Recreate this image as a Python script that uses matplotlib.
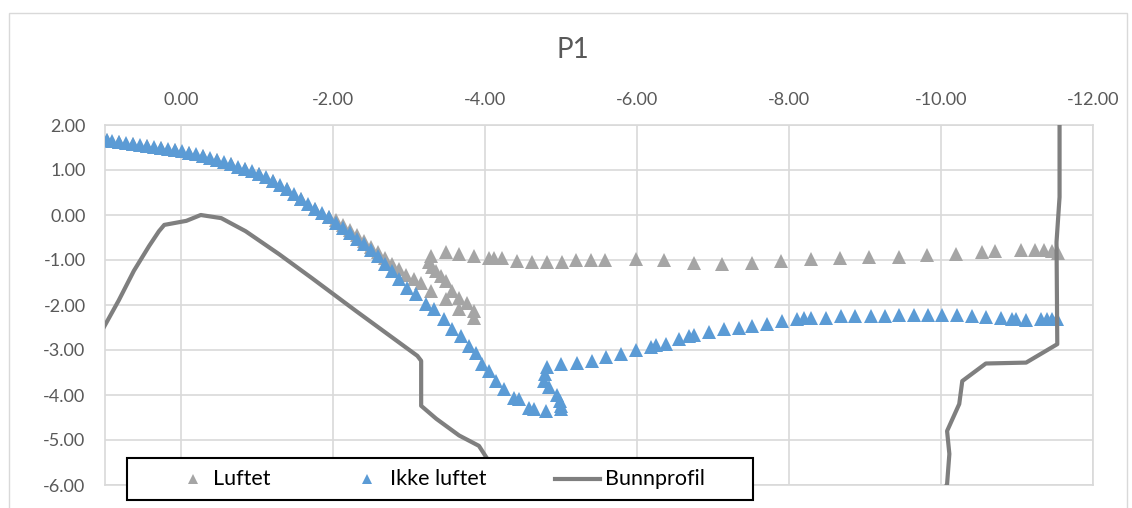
import matplotlib
matplotlib.use("Agg")
import matplotlib.pyplot as plt
from matplotlib.lines import Line2D
from matplotlib.patches import Rectangle
from matplotlib.ticker import FuncFormatter

plt.rcParams['font.family'] = ['Lato', 'DejaVu Sans']

# ---- Data -------------------------------------------------------------
# Ikke luftet: descending jet
ikke_x_ned = [0.98, 0.91, 0.82, 0.72, 0.63, 0.54, 0.45, 0.36, 0.26, 0.17,
              0.08, -0.01, -0.11, -0.20, -0.29, -0.38, -0.47, -0.57, -0.66, -0.75,
              -0.84, -0.93, -1.03, -1.12, -1.21, -1.30, -1.39, -1.49, -1.58, -1.67,
              -1.76, -1.86, -1.95, -2.04, -2.13, -2.22, -2.32, -2.41, -2.50, -2.59,
              -2.68, -2.78, -2.87, -2.97, -3.09, -3.22, -3.33, -3.46, -3.57, -3.68,
              -3.79, -3.88, -3.96, -4.05, -4.14, -4.25, -4.38, -4.45, -4.58, -4.64,
              -4.80]
ikke_y_ned = [1.67, 1.64, 1.62, 1.60, 1.58, 1.56, 1.53, 1.51, 1.49, 1.47,
              1.44, 1.42, 1.38, 1.36, 1.31, 1.27, 1.22, 1.18, 1.13, 1.07,
              1.02, 0.98, 0.91, 0.84, 0.76, 0.67, 0.58, 0.47, 0.36, 0.24,
              0.13, 0.04, -0.04, -0.18, -0.29, -0.40, -0.53, -0.64, -0.78, -0.91,
              -1.09, -1.24, -1.42, -1.62, -1.76, -1.98, -2.09, -2.31, -2.53, -2.69,
              -2.91, -3.07, -3.31, -3.47, -3.69, -3.87, -4.07, -4.09, -4.29, -4.31,
              -4.36]
# Ikke luftet: turning point near the bottom
ikke_x_snu = [-5.00, -5.00, -4.99, -4.95, -4.84, -4.78, -4.79, -4.82]
ikke_y_snu = [-4.31, -4.24, -4.13, -4.00, -3.82, -3.69, -3.53, -3.38]
# Ikke luftet: rising branch towards the far wall
ikke_x_opp = [-5.00, -5.21, -5.41, -5.59, -5.79, -5.99, -6.18, -6.25, -6.38, -6.55,
              -6.68, -6.75, -6.95, -7.14, -7.34, -7.51, -7.71, -7.91, -8.11, -8.20,
              -8.29, -8.49, -8.68, -8.87, -9.08, -9.26, -9.45, -9.64, -9.83, -10.01,
              -10.21, -10.41, -10.59, -10.79, -10.93, -10.99, -11.12, -11.32, -11.39, -11.46,
              -11.53]
ikke_y_opp = [-3.31, -3.29, -3.24, -3.16, -3.09, -3.00, -2.93, -2.89, -2.87, -2.76,
              -2.69, -2.67, -2.60, -2.53, -2.51, -2.47, -2.42, -2.36, -2.31, -2.29,
              -2.29, -2.29, -2.24, -2.24, -2.24, -2.24, -2.22, -2.22, -2.22, -2.22,
              -2.22, -2.24, -2.27, -2.29, -2.31, -2.31, -2.33, -2.31, -2.31, -2.31,
              -2.31]

# Luftet: upper part (shared with the non-aerated jet)
luft_x_topp = [0.98, 0.82, 0.63, 0.45, 0.26, 0.08, -0.11, -0.29, -0.47, -0.66,
               -0.84, -1.03, -1.21, -1.39, -1.58, -1.76, -1.95]
luft_y_topp = [1.67, 1.62, 1.58, 1.53, 1.49, 1.44, 1.38, 1.31, 1.22, 1.13,
               1.02, 0.91, 0.76, 0.58, 0.36, 0.13, -0.04]
# Luftet: descending part
luft_x_ned = [-2.04, -2.13, -2.22, -2.32, -2.41, -2.50, -2.59, -2.68, -2.78, -2.87,
              -2.96, -3.07, -3.16, -3.29, -3.49, -3.66, -3.86]
luft_y_ned = [-0.11, -0.22, -0.33, -0.44, -0.58, -0.71, -0.82, -0.96, -1.09, -1.20,
              -1.33, -1.42, -1.51, -1.69, -1.87, -2.09, -2.29]
# Luftet: points climbing back up
luft_x_snu = [-3.86, -3.76, -3.66, -3.57, -3.49, -3.42, -3.36, -3.30, -3.26, -3.29]
luft_y_snu = [-2.13, -1.96, -1.84, -1.69, -1.47, -1.36, -1.24, -1.16, -1.04, -0.91]
# Luftet: near-horizontal surface layer
luft_x_flat = [-3.49, -3.66, -3.86, -4.05, -4.12, -4.22, -4.42, -4.62, -4.82, -5.01,
               -5.20, -5.39, -5.58, -5.99, -6.36, -6.75, -7.12, -7.51, -7.89, -8.29,
               -8.67, -9.05, -9.45, -9.82, -10.20, -10.54, -10.71, -11.05, -11.24, -11.36,
               -11.46, -11.54]
luft_y_flat = [-0.82, -0.87, -0.91, -0.96, -0.96, -0.96, -1.02, -1.04, -1.04, -1.04,
               -1.00, -1.00, -1.00, -0.98, -1.00, -1.07, -1.09, -1.07, -1.02, -0.98,
               -0.96, -0.93, -0.93, -0.89, -0.87, -0.82, -0.80, -0.78, -0.78, -0.78,
               -0.80, -0.84]

# Bunnprofil (bottom profile)
bunn_x = [1.05, 0.82, 0.62, 0.42, 0.29, 0.22, -0.07, -0.26, -0.53, -0.85,
          -1.29, -1.72, -2.30, -3.11, -3.16, -3.16, -3.36, -3.66, -3.92, -4.05,
          -4.18, -9.95, -10.08, -10.11, -10.08, -10.24, -10.28, -10.59, -11.12, -11.53,
          -11.52, -11.56, -11.56]
bunn_y = [-2.60, -1.90, -1.24, -0.69, -0.36, -0.22, -0.13, 0.00, -0.07, -0.36,
          -0.87, -1.40, -2.13, -3.13, -3.24, -4.24, -4.53, -4.90, -5.13, -5.47,
          -6.40, -6.40, -5.98, -5.31, -4.80, -4.20, -3.69, -3.30, -3.28, -2.87,
          -0.60, 0.40, 2.20]

x_ticks = [0, -2, -4, -6, -8, -10, -12]
y_ticks = [2, 1, 0, -1, -2, -3, -4, -5, -6]

GRAY = '#A5A5A5'
BLUE = '#5B9BD5'
LINE = '#7F7F7F'
GRID = '#D9D9D9'
TXT = '#595959'

W, H = 1132, 508
fig = plt.figure(figsize=(W / 100, H / 100), dpi=100)


def fx(px):
    return px / W


def fy(py):
    return 1 - py / H


# chart-area frame (bottom edge runs below the saved image)
fig.add_artist(Rectangle((fx(9), fy(515)), fx(1127) - fx(9), fy(13) - fy(515),
                         transform=fig.transFigure, fill=False,
                         edgecolor=GRID, linewidth=1.0))

ax = fig.add_axes([fx(105), fy(485), fx(1093) - fx(105), fy(125) - fy(485)])

lx = luft_x_topp + luft_x_ned + luft_x_snu + luft_x_flat
ly = luft_y_topp + luft_y_ned + luft_y_snu + luft_y_flat
ix = ikke_x_ned + ikke_x_snu + ikke_x_opp
iy = ikke_y_ned + ikke_y_snu + ikke_y_opp

ms = 10
ax.plot(lx, ly, linestyle='none', marker='^', markersize=ms, color=GRAY,
        markeredgewidth=0, label='Luftet', zorder=3)
ax.plot(ix, iy, linestyle='none', marker='^', markersize=ms, color=BLUE,
        markeredgewidth=0, label='Ikke luftet', zorder=4)
ax.plot(bunn_x, bunn_y, color=LINE, linewidth=3.0, solid_joinstyle='round',
        label='Bunnprofil', zorder=5)

ax.set_xlim(1.0, -12.0)
ax.set_ylim(-6.0, 2.0)
ax.set_xticks(x_ticks)
ax.set_yticks(y_ticks)
fmt = FuncFormatter(lambda v, p: f"{v:.2f}")
ax.xaxis.set_major_formatter(fmt)
ax.yaxis.set_major_formatter(fmt)
ax.xaxis.tick_top()
ax.tick_params(axis='x', length=0, pad=12, labelsize=13, labelcolor=TXT)
ax.tick_params(axis='y', length=0, pad=14, labelsize=13, labelcolor=TXT)
ax.grid(True, color=GRID, linewidth=1.2, zorder=0)
ax.set_axisbelow(True)
for s in ax.spines.values():
    s.set_color(GRID)
    s.set_linewidth(1.2)

fig.text(fx(573), fy(50), 'P1', ha='center', va='center', fontsize=20, color=TXT)

# legend box
fig.add_artist(Rectangle((fx(127), fy(500)), fx(753) - fx(127), fy(458) - fy(500),
                         transform=fig.transFigure, facecolor='white',
                         edgecolor='black', linewidth=1.5, zorder=10))
yl = fy(479)
fig.add_artist(Line2D([fx(193)], [yl], transform=fig.transFigure, marker='^',
                      markersize=7, color=GRAY, markeredgewidth=0, linestyle='none', zorder=11))
fig.add_artist(Line2D([fx(367)], [yl], transform=fig.transFigure, marker='^',
                      markersize=7, color=BLUE, markeredgewidth=0, linestyle='none', zorder=11))
fig.add_artist(Line2D([fx(555), fx(600)], [yl, yl], transform=fig.transFigure,
                      color=LINE, linewidth=3.0, zorder=11))
for x0, t in [(213, 'Luftet'), (390, 'Ikke luftet'), (605, 'Bunnprofil')]:
    fig.text(fx(x0), yl, t, ha='left', va='center', fontsize=15.5, color='black', zorder=12)

fig.savefig('out.png', dpi=100)
